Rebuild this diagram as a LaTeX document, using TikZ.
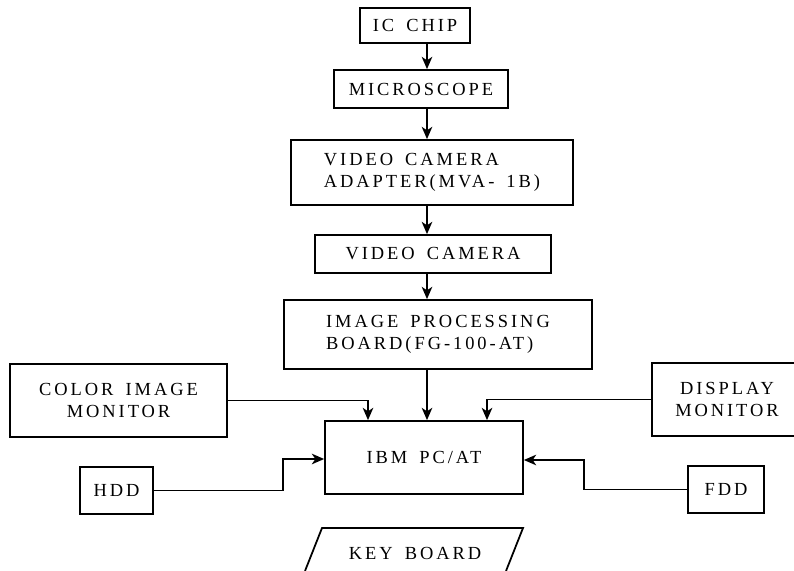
\documentclass[tikz,border=0pt]{standalone}
\usepackage{fontspec}
\setmainfont{Liberation Serif}[LetterSpace=16,WordSpace=1.6]
\usetikzlibrary{arrows.meta}
\begin{document}
\begin{tikzpicture}[x=0.02cm,y=-0.02cm,line width=1pt,>={Stealth[length=7pt,width=6pt,inset=2pt]},
    box/.style={draw,inner sep=0pt,align=left},font=\fontsize{10.5}{12.5}\selectfont]
    \useasboundingbox (0,0) rectangle (794,571);
    \clip (0,0) rectangle (794,571);
    % main chain
    \node[box,minimum width=2.2cm,minimum height=0.7cm] (ic) at (415,25.5) {IC CHIP};
    \node[box,minimum width=3.48cm,minimum height=0.76cm] (mic) at (421,89) {MICROSCOPE};
    \node[box,minimum width=5.64cm,minimum height=1.3cm] (vca) at (432,172.5) {VIDEO CAMERA\\ ADAPTER(MVA- 1B)};
    \node[box,minimum width=4.72cm,minimum height=0.76cm] (vc) at (433,254) {VIDEO CAMERA};
    \node[box,minimum width=6.16cm,minimum height=1.38cm] (ipb) at (438,334.5) {IMAGE PROCESSING\\BOARD(FG-100-AT)};
    \node[box,minimum width=3.96cm,minimum height=1.46cm] (ibm) at (424,457.5) {IBM PC/AT};
    % side units
    \node[box,align=center,minimum width=4.34cm,minimum height=1.46cm] (cim) at (118.5,400.5) {COLOR IMAGE\\MONITOR};
    \node[box,align=center,minimum width=3cm,minimum height=1.46cm] (dm) at (727,399.5) {DISPLAY\\MONITOR};
    \node[box,minimum width=1.46cm,minimum height=0.94cm] (hdd) at (116.5,490.5) {HDD};
    \node[box,minimum width=1.52cm,minimum height=0.94cm] (fdd) at (726,489.5) {FDD};
    \node (kb) at (415,553) {KEY BOARD};
    \draw (305,571) -- (322,528) -- (523,528) -- (506,571);
    % connectors
    \coordinate (spine) at (427,0);
    \coordinate (inL) at (368,0);
    \coordinate (inR) at (487,0);
    \coordinate (hddj) at (283,459);
    \coordinate (fddj) at (584,460);
    \draw[->] (ic.south -| spine) -- (mic.north -| spine);
    \draw[->] (mic.south -| spine) -- (vca.north -| spine);
    \draw[->] (vca.south -| spine) -- (vc.north -| spine);
    \draw[->] (vc.south -| spine) -- (ipb.north -| spine);
    \draw[->] (ipb.south -| spine) -- (ibm.north -| spine);
    \draw[->] (cim.east) -| (ibm.north -| inL);
    \draw[->] (dm.west) -| (ibm.north -| inR);
    \draw[->] (hdd.east) -| (hddj) -- (hddj -| ibm.west);
    \draw[->] (fdd.west) -| (fddj) -- (fddj -| ibm.east);
\end{tikzpicture}
\end{document}
